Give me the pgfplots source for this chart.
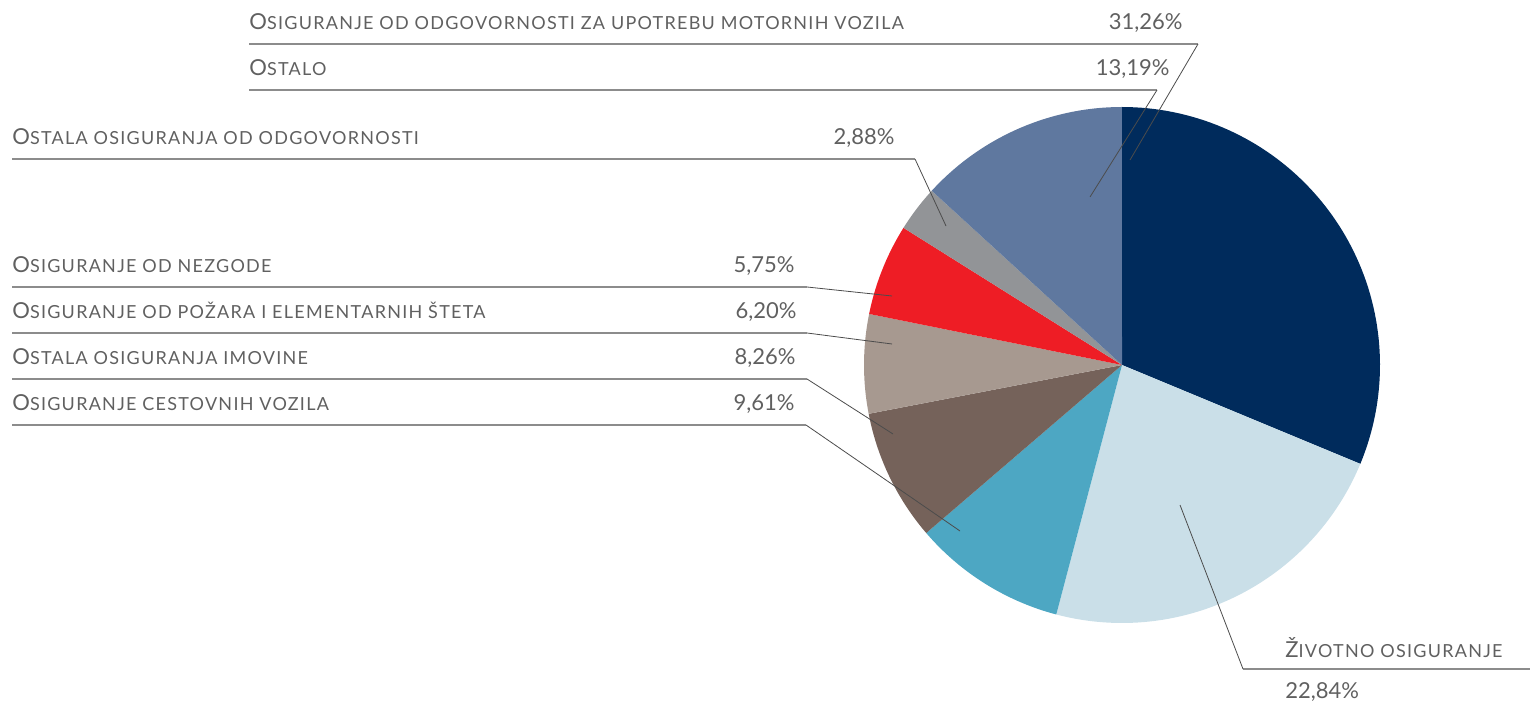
\documentclass[border=0pt]{standalone}
\usepackage{fontspec}
\usepackage{pgfplots}
\pgfplotsset{compat=1.18}
\setmainfont{Lato}
\newfontfamily\lab[LetterSpace=7]{Lato}
\definecolor{cNavy}{HTML}{002B5C}
\definecolor{cLight}{HTML}{CADFE8}
\definecolor{cTeal}{HTML}{4DA7C3}
\definecolor{cBrown}{HTML}{75625A}
\definecolor{cTaupe}{HTML}{A79990}
\definecolor{cRed}{HTML}{EE1D25}
\definecolor{cGray}{HTML}{929497}
\definecolor{cSlate}{HTML}{5F789F}
\definecolor{txt}{HTML}{606060}
\newcommand\SC[2]{{\lab\fontsize{11}{13}\selectfont #1}{\lab\fontsize{9}{11}\selectfont #2}}
\newcommand\PC[1]{{\fontsize{11}{13}\selectfont #1}}
% shares in percent
\pgfmathsetmacro\aA{90}
\pgfmathsetmacro\aB{\aA-3.6*31.26} % motorna vozila odgovornost
\pgfmathsetmacro\aC{\aB-3.6*22.84} % zivotno
\pgfmathsetmacro\aD{\aC-3.6*9.61}  % cestovna vozila
\pgfmathsetmacro\aE{\aD-3.6*8.26}  % ostala imovina
\pgfmathsetmacro\aF{\aE-3.6*6.20}  % pozar
\pgfmathsetmacro\aG{\aF-3.6*5.75}  % nezgoda
\pgfmathsetmacro\aH{\aG-3.6*2.88}  % ostala odgovornost
\pgfmathsetmacro\aI{\aH-3.6*13.19} % ostalo
\begin{document}
\begin{tikzpicture}
\begin{axis}[
  scale only axis, width=765pt, height=352pt,
  xmin=0, xmax=1530, ymin=0, ymax=704, y dir=reverse,
  hide axis, clip=false,
  every axis plot/.append style={draw=none, samples=80, variable=\t},
]
\addplot[fill=cNavy, domain=\aB:\aA] ({1122+258*cos(\t)},{365-258*sin(\t)}) -- (axis cs:1122,365) -- cycle;
\addplot[fill=cLight, domain=\aC:\aB] ({1122+258*cos(\t)},{365-258*sin(\t)}) -- (axis cs:1122,365) -- cycle;
\addplot[fill=cTeal, domain=\aD:\aC] ({1122+258*cos(\t)},{365-258*sin(\t)}) -- (axis cs:1122,365) -- cycle;
\addplot[fill=cBrown, domain=\aE:\aD] ({1122+258*cos(\t)},{365-258*sin(\t)}) -- (axis cs:1122,365) -- cycle;
\addplot[fill=cTaupe, domain=\aF:\aE] ({1122+258*cos(\t)},{365-258*sin(\t)}) -- (axis cs:1122,365) -- cycle;
\addplot[fill=cRed, domain=\aG:\aF] ({1122+258*cos(\t)},{365-258*sin(\t)}) -- (axis cs:1122,365) -- cycle;
\addplot[fill=cGray, domain=\aH:\aG] ({1122+258*cos(\t)},{365-258*sin(\t)}) -- (axis cs:1122,365) -- cycle;
\addplot[fill=cSlate, domain=\aI:\aH] ({1122+258*cos(\t)},{365-258*sin(\t)}) -- (axis cs:1122,365) -- cycle;

% underlines
\begin{scope}[draw=black!45, line width=0.6pt]
\draw (axis cs:249,44) -- (axis cs:1198,44);
\draw (axis cs:249,90) -- (axis cs:1157,90);
\draw (axis cs:12,159) -- (axis cs:915,159);
\draw (axis cs:12,287) -- (axis cs:807,287);
\draw (axis cs:12,333) -- (axis cs:807,333);
\draw (axis cs:12,379) -- (axis cs:807,379);
\draw (axis cs:12,425) -- (axis cs:806,425);
\draw (axis cs:1243,669) -- (axis cs:1530,669);
\end{scope}
% leaders
\begin{scope}[draw=black!70, line width=0.4pt]
\draw (axis cs:1198,44) -- (axis cs:1130,160);
\draw (axis cs:1157,90) -- (axis cs:1090,197);
\draw (axis cs:915,159) -- (axis cs:946,226);
\draw (axis cs:807,287) -- (axis cs:892,296);
\draw (axis cs:807,333) -- (axis cs:892,344);
\draw (axis cs:807,379) -- (axis cs:893,434);
\draw (axis cs:806,425) -- (axis cs:960,531);
\draw (axis cs:1243,669) -- (axis cs:1180,505);
\end{scope}
% labels
\begin{scope}[every node/.style={inner sep=0pt, text=txt}]
\node[anchor=base west] at (axis cs:249,30) {\SC{O}{SIGURANJE OD ODGOVORNOSTI ZA UPOTREBU MOTORNIH VOZILA}};
\node[anchor=base west] at (axis cs:249,76) {\SC{O}{STALO}};
\node[anchor=base west] at (axis cs:12,145) {\SC{O}{STALA OSIGURANJA OD ODGOVORNOSTI}};
\node[anchor=base west] at (axis cs:12,273) {\SC{O}{SIGURANJE OD NEZGODE}};
\node[anchor=base west] at (axis cs:12,319) {\SC{O}{SIGURANJE OD POŽARA I ELEMENTARNIH ŠTETA}};
\node[anchor=base west] at (axis cs:12,365) {\SC{O}{STALA OSIGURANJA IMOVINE}};
\node[anchor=base west] at (axis cs:12,411) {\SC{O}{SIGURANJE CESTOVNIH VOZILA}};
\node[anchor=base west] at (axis cs:1285,657) {\SC{Ž}{IVOTNO OSIGURANJE}};
\node[anchor=base east] at (axis cs:1183,30) {\PC{31,26\%}};
\node[anchor=base east] at (axis cs:1170,76) {\PC{13,19\%}};
\node[anchor=base east] at (axis cs:895,145) {\PC{2,88\%}};
\node[anchor=base east] at (axis cs:795,273) {\PC{5,75\%}};
\node[anchor=base east] at (axis cs:797,319) {\PC{6,20\%}};
\node[anchor=base east] at (axis cs:796,365) {\PC{8,26\%}};
\node[anchor=base east] at (axis cs:795,411) {\PC{9,61\%}};
\node[anchor=base west] at (axis cs:1285,698) {\PC{22,84\%}};
\end{scope}
\end{axis}
\pgfresetboundingbox
\path (current axis.south west) rectangle (current axis.north east);
\end{tikzpicture}
\end{document}
